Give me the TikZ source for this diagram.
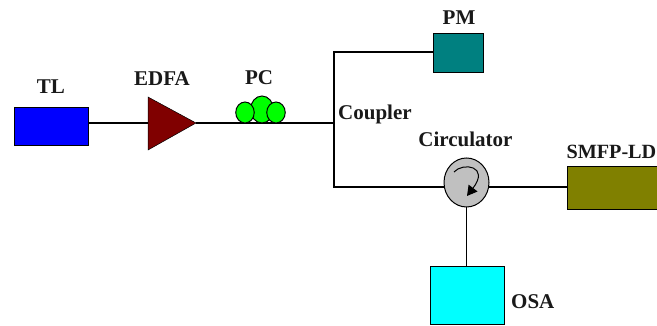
\documentclass[tikz,border=0pt]{standalone}
\usepackage{fontspec}
\setmainfont{Liberation Serif}
\usetikzlibrary{arrows.meta,shapes.geometric}
\definecolor{tealbox}{RGB}{0,128,128}
\definecolor{olivebox}{RGB}{128,128,0}
\definecolor{ampred}{RGB}{128,0,0}
\definecolor{circgray}{RGB}{192,192,192}
\definecolor{osacyan}{RGB}{0,255,255}
\definecolor{padgreen}{RGB}{0,255,0}
\tikzset{
  unitbox/.style={draw=black,line width=1pt,inner sep=0pt},
  lbl/.style={font=\fontsize{21}{23}\selectfont\bfseries,inner sep=0pt,text=black!90},
  padcirc/.style={ellipse,draw=black,line width=1pt,fill=padgreen,inner sep=0pt},
  fibre/.style={line width=1.6pt}
}
\begin{document}
\begin{tikzpicture}[x=1pt,y=-1pt]
    \useasboundingbox (0,0) rectangle (657,326);
    \coordinate (join) at (334,123);
    \coordinate (upper) at (334,52);
    \coordinate (lower) at (334,187);
    \coordinate (circmid) at (466.5,182.5);
    % units
    \node[unitbox,fill=blue,minimum width=74pt,minimum height=38pt] (tl) at (51,126.5) {};
    \node[unitbox,fill=tealbox,minimum width=50pt,minimum height=39pt] (pm) at (458,53) {};
    \node[unitbox,fill=olivebox,minimum width=90pt,minimum height=43pt,anchor=west] (ld) at (567,188.5) {};
    \node[unitbox,fill=osacyan,minimum width=74pt,minimum height=58pt] (osa) at (467,295.5) {};
    % amplifier
    \coordinate (ampa) at (148,97);
    \coordinate (ampb) at (148,150);
    \coordinate (ampc) at (196,123);
    \fill[fill=ampred,draw=black,line width=.5pt] (ampa) -- (ampc) -- (ampb) -- cycle;
    % fibre
    \draw[fibre] (tl.east |- join) -- (ampa |- join);
    \draw[fibre] (ampc) -- (join);
    \draw[fibre] (pm.west |- upper) -- (upper) -- (lower) -- (circmid |- lower);
    \draw[fibre] (circmid |- lower) -- (lower -| ld.west);
    \draw[line width=1pt] (circmid) -- (circmid |- osa.north);
    % circulator
    \node[draw=black,line width=1pt,fill=circgray,ellipse,inner sep=0pt,minimum width=45pt,minimum height=49pt] (circ) at (circmid) {};
    \draw[line width=1pt,-{Triangle[length=10pt,width=11pt]}] (454,172) .. controls (463,162) and (490,166) .. (467,196);
    % polarisation controller
    \node[padcirc,minimum width=23pt,minimum height=27pt] (pcb) at (262,109.5) {};
    \node[padcirc,minimum width=18.5pt,minimum height=21pt] (pca) at (245,112.5) {};
    \node[padcirc,minimum width=18.5pt,minimum height=21pt] (pcc) at (276,112.5) {};
    % labels
    \node[lbl] (tllbl) at (51,87) {TL};
    \node[lbl] (edfalbl) at (162,79) {EDFA};
    \node[lbl] (pclbl) at (259,78) {PC};
    \node[lbl] (pmlbl) at (459,18) {PM};
    \node[lbl,anchor=west] (couplerlbl) at (338,114) {Coupler};
    \node[lbl] (circlbl) at (465.5,139) {Circulator};
    \node[lbl,anchor=east,font=\fontsize{20.2}{22}\selectfont\bfseries] (ldlbl) at (656.5,152) {SMFP-LD};
    \node[lbl,anchor=west] (osalbl) at (511,302) {OSA};
  \end{tikzpicture}
\end{document}
